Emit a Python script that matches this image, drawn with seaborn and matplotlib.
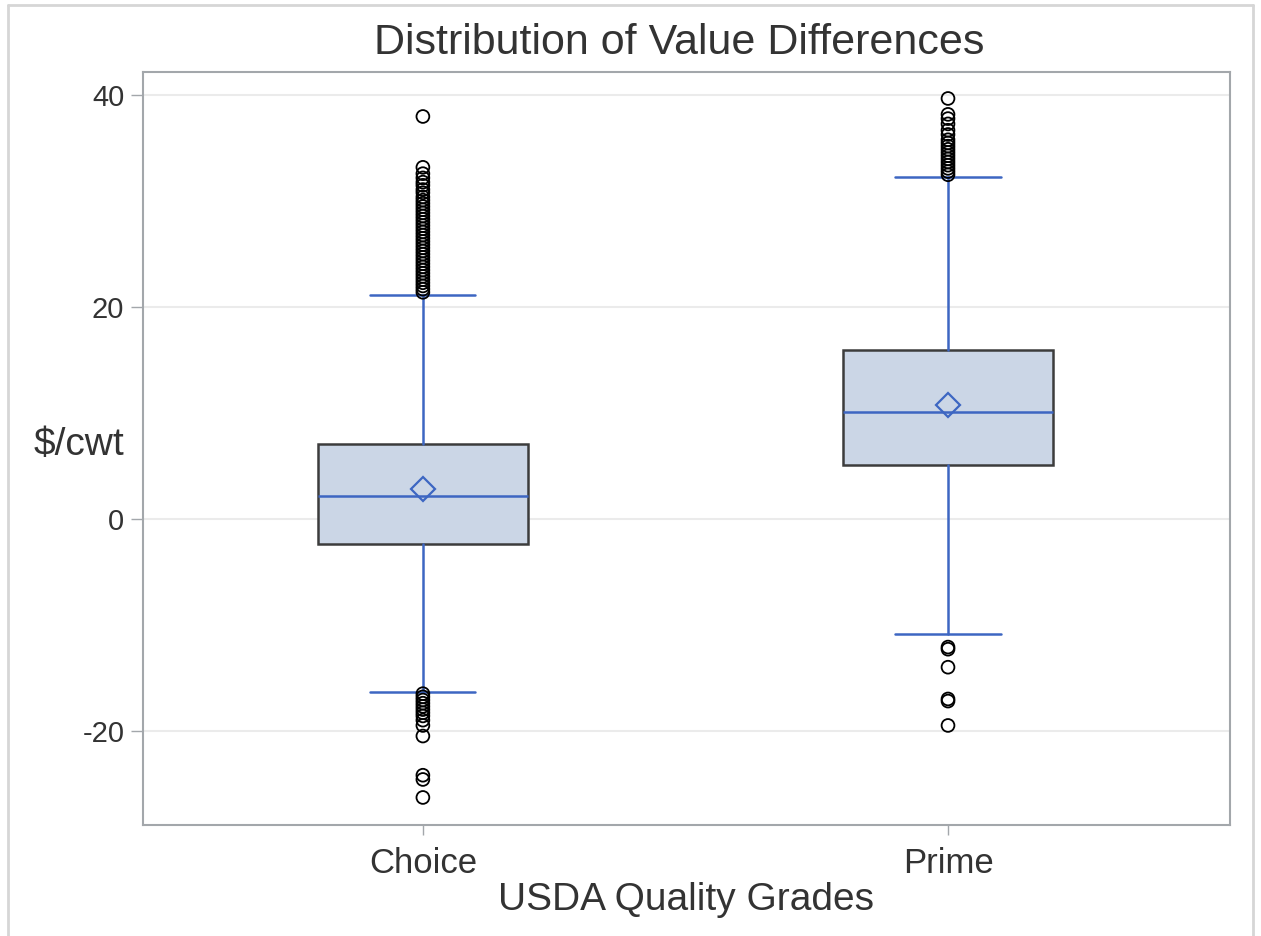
import matplotlib
matplotlib.use("Agg")
import matplotlib.pyplot as plt
from matplotlib.lines import Line2D
import seaborn as sns
import pandas as pd

# Summary statistics per grade ($/cwt)
grades = ["Choice", "Prime"]
q1 = [-2.35, 5.05]
median = [2.15, 10.1]
q3 = [7.05, 15.95]
whisker_low = [-16.3, -10.9]
whisker_high = [21.15, 32.3]
means = [2.8, 10.75]

choice_outliers = [38.0, 33.2, 32.6, 32.2, 31.8, 31.5, 31.1, 30.8, 30.4, 30.1,
                   29.8, 29.5, 29.2, 28.9, 28.6, 28.3, 28.0, 27.7, 27.4, 27.1,
                   26.8, 26.5, 26.2, 25.9, 25.6, 25.3, 25.0, 24.7, 24.4, 24.1,
                   23.8, 23.5, 23.2, 22.9, 22.6, 22.3, 22.0, 21.7, 21.4,
                   -16.5, -16.8, -17.1, -17.4, -17.7, -18.0, -18.3, -18.6,
                   -19.0, -19.5, -20.5, -24.2, -24.6, -26.3]
prime_outliers = [39.7, 38.2, 37.8, 37.3, 36.7, 36.3, 35.8, 35.5, 35.2, 34.9,
                  34.6, 34.3, 34.0, 33.7, 33.4, 33.1, 32.8, 32.5,
                  -12.1, -12.3, -14.0, -17.0, -17.2, -19.5]

y_ticks = [-20, 0, 20, 40]

BLUE = "#3d66c2"
FILL = "#cbd6e6"
EDGE = "#3c3c3c"
TEXT = "#333333"
SPINE = "#a3a7ab"

sns.set_theme(style="white")
plt.rcParams["font.family"] = ["Liberation Sans", "DejaVu Sans"]

fig = plt.figure(figsize=(12.61, 9.36), dpi=100)
ax = fig.add_axes([143 / 1261, 1 - 825 / 936, (1230 - 143) / 1261, (825 - 72) / 936])

# Horizontal reference lines
for t in y_ticks:
    ax.axhline(t, color="#ebebeb", lw=1.5, zorder=0)

stats = []
for i, g in enumerate(grades):
    stats.append(dict(label=g, q1=q1[i], med=median[i], q3=q3[i],
                      whislo=whisker_low[i], whishi=whisker_high[i],
                      mean=means[i], fliers=[]))

ax.bxp(stats, positions=[0, 1], widths=0.4, capwidths=0.2,
       showmeans=True, showfliers=False, patch_artist=True,
       boxprops=dict(facecolor=FILL, edgecolor=EDGE, linewidth=1.8),
       medianprops=dict(color=BLUE, linewidth=1.8),
       whiskerprops=dict(color=BLUE, linewidth=1.8),
       capprops=dict(color=BLUE, linewidth=1.8),
       meanprops=dict(marker="D", markersize=12, markerfacecolor="none",
                      markeredgecolor=BLUE, markeredgewidth=1.6),
       zorder=2)

# Outlying observations
out_df = pd.DataFrame({
    "pos": [0] * len(choice_outliers) + [1] * len(prime_outliers),
    "value": choice_outliers + prime_outliers,
})
sns.scatterplot(data=out_df, x="pos", y="value", ax=ax, marker="o", s=85,
                color="black", edgecolor="black", linewidth=1.3, zorder=3,
                legend=False)
ax.collections[-1].set_facecolor("none")

ax.set_xlim(-0.533, 1.537)
ax.set_ylim(-28.9, 42.2)
ax.set_xticks([0, 1])
ax.set_xticklabels(grades)
ax.set_yticks(y_ticks)
ax.set_yticklabels([str(t) for t in y_ticks])

ax.tick_params(axis="both", which="major", direction="out", width=1,
               color=SPINE, labelcolor=TEXT, bottom=True, left=True)
ax.tick_params(axis="y", length=8.5, labelsize=21, pad=5)
ax.tick_params(axis="x", length=7.5, labelsize=25, pad=8)
for s in ax.spines.values():
    s.set_color(SPINE)
    s.set_linewidth(1.5)

ax.set_xlabel("USDA Quality Grades", fontsize=28, color=TEXT, labelpad=2)
ax.set_ylabel("$/cwt", fontsize=28, color=TEXT, rotation=0,
              ha="right", va="center")
ax.yaxis.set_label_coords(-0.017, 0.505)
ax.set_title("Distribution of Value Differences", fontsize=31, color=TEXT,
             pad=13, x=0.493)

# Outer frame of the graph
W, H = 1261, 936
frame = dict(color="#d6d6d6", lw=2.0, transform=fig.transFigure)
fig.add_artist(Line2D([8 / W, 8 / W], [0, 1 - 5 / H], **frame))
fig.add_artist(Line2D([8 / W, 1253 / W], [1 - 5 / H, 1 - 5 / H], **frame))
fig.add_artist(Line2D([1253 / W, 1253 / W], [0, 1 - 5 / H], **frame))

fig.savefig("out.png", dpi=100, facecolor="white")
